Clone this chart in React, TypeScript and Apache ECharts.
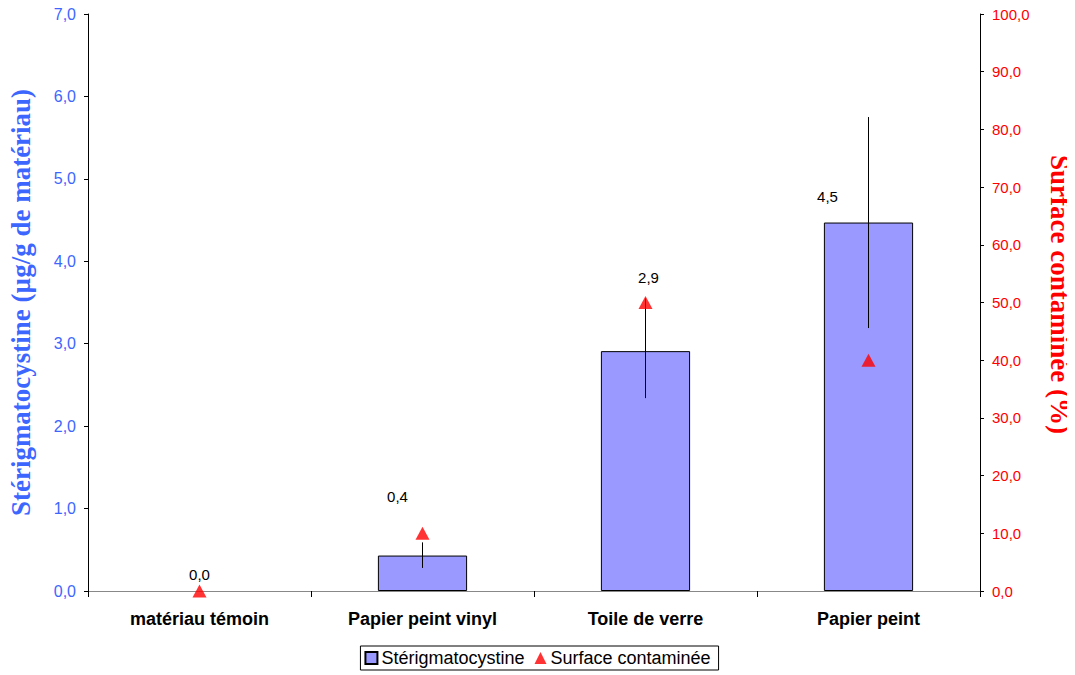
import React, { useEffect, useRef } from "react";
import * as echarts from "echarts";

const categories = ["matériau témoin", "Papier peint vinyl", "Toile de verre", "Papier peint"];
const sterigValues = [0.0, 0.43, 2.91, 4.47];
const errLow = [0.0, 0.28, 2.34, 3.19];
const errHigh = [0.0, 0.59, 3.55, 5.75];
const surfaceValues = [0, 10, 50, 40];
const leftTicks = ["0,0", "1,0", "2,0", "3,0", "4,0", "5,0", "6,0", "7,0"];
const labelOffsets = [[0, -4], [-25, -47], [3, -61], [-41, -14]];

const fmt = (v: number) => v.toFixed(1).replace(".", ",");

export default function App() {
  const ref = useRef<HTMLDivElement>(null);
  useEffect(() => {
    if (!ref.current) return;
    const chart = echarts.init(ref.current, null, { renderer: "svg" });
    const blue = "#3d66ff";
    const red = "#ff0000";
    chart.setOption({
      animation: false,
      textStyle: { fontFamily: "Liberation Sans, Arial, sans-serif" },
      grid: { left: 88, right: 95, top: 14, bottom: 84, outerBoundsMode: "none", containLabel: false },
      legend: {
        top: 646,
        left: "center",
        data: [
          { name: "Stérigmatocystine", icon: "rect" },
          { name: "Surface contaminée", icon: "triangle", itemStyle: { color: red, borderWidth: 0 } },
        ],
        itemWidth: 12,
        itemHeight: 12,
        itemGap: 10,
        borderColor: "#000",
        borderWidth: 1,
        borderRadius: 0,
        padding: [3, 8, 3, 4],
        textStyle: { fontSize: 18, color: "#000", padding: [0, 0, 0, -1] },
      },
      xAxis: [
        {
          type: "category",
          data: categories,
          position: "bottom",
          axisLine: { lineStyle: { color: "#000", width: 1 } },
          axisTick: { show: true, length: 6, alignWithLabel: false, lineStyle: { color: "#000" } },
          axisLabel: { fontSize: 18, fontWeight: "bold", color: "#000", margin: 19 },
        },
        {
          type: "category",
          data: categories,
          position: "top",
          axisLine: { lineStyle: { color: "#888", width: 1 } },
          axisTick: { show: false },
          axisLabel: { show: false },
        },
      ],
      yAxis: [
        {
          type: "value",
          min: 0,
          max: 7,
          interval: 1,
          position: "left",
          name: "Stérigmatocystine (µg/g de matériau)",
          nameLocation: "middle",
          nameRotate: 90,
          nameGap: 54,
          nameTextStyle: { fontFamily: "Liberation Serif, Times New Roman, serif", fontWeight: "bold", fontSize: 27, color: blue },
          axisLine: { show: true, lineStyle: { color: "#000" } },
          axisTick: { show: true, length: 4, lineStyle: { color: "#000" } },
          axisLabel: { fontSize: 16, color: blue, margin: 12, formatter: (v: number) => leftTicks[Math.round(v)] ?? fmt(v) },
          splitLine: { show: false },
        },
        {
          type: "value",
          min: 0,
          max: 100,
          interval: 10,
          position: "right",
          name: "Surface contaminée (%)",
          nameLocation: "middle",
          nameRotate: -90,
          nameGap: 66,
          nameTextStyle: { fontFamily: "Liberation Serif, Times New Roman, serif", fontWeight: "bold", fontSize: 27, color: red, padding: [0, 16, 0, 0] },
          axisLine: { show: true, lineStyle: { color: "#000" } },
          axisTick: { show: true, length: 4, lineStyle: { color: "#000" } },
          axisLabel: { fontSize: 15, color: red, margin: 12, formatter: (v: number) => fmt(v) },
          splitLine: { show: false },
        },
      ],
      series: [
        {
          name: "Stérigmatocystine",
          type: "bar",
          yAxisIndex: 0,
          barWidth: "40%",
          itemStyle: { color: "#9999ff", borderColor: "#000", borderWidth: 1 },
          data: sterigValues.map((v, i) => ({
            value: v,
            label: { offset: labelOffsets[i] },
            itemStyle: v === 0 ? { borderWidth: 0 } : undefined,
          })),
          label: {
            show: true,
            position: "top",
            fontSize: 15,
            color: "#000",
            formatter: (p: any) => fmt(p.value),
          },
          z: 2,
        },
        {
          name: "errorbars",
          type: "custom",
          yAxisIndex: 0,
          data: categories.map((_, i) => [i, errLow[i], errHigh[i]]),
          renderItem: (params: any, api: any) => {
            const x = api.value(0);
            const lo = api.coord([x, api.value(1)]);
            const hi = api.coord([x, api.value(2)]);
            return {
              type: "line",
              shape: { x1: lo[0], y1: lo[1], x2: hi[0], y2: hi[1] },
              style: { stroke: "#000", lineWidth: 1 },
            };
          },
          z: 3,
        },
        {
          name: "Surface contaminée",
          type: "scatter",
          yAxisIndex: 1,
          symbol: "triangle",
          symbolSize: [14, 13],
          itemStyle: { color: red },
          data: surfaceValues,
          z: 4,
        },
      ],
    });
    return () => chart.dispose();
  }, []);
  return <div ref={ref} style={{ width: 1075, height: 675, marginLeft: -8, marginTop: -8 }} />;
}
